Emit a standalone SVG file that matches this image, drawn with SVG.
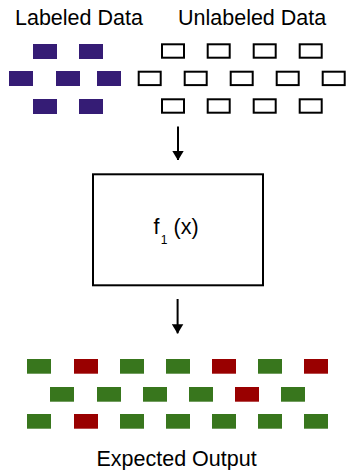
<svg xmlns="http://www.w3.org/2000/svg" width="346" height="470" viewBox="0 0 346 470">
  <style>
    .label { font-family: "Liberation Sans", Arial, sans-serif; font-size: 21.5px; fill: #000; }
    .lab { fill: #351c75; }
    .unl { fill: #fff; stroke: #000; stroke-width: 2; }
    .ok { fill: #38761d; }
    .bad { fill: #990000; }
    .edge { stroke: #000; stroke-width: 2; fill: none; }
  </style>
  <defs>
    <marker id="arrow" viewBox="0 0 10 12" refX="9.5" refY="6" markerWidth="9.5" markerHeight="12" markerUnits="userSpaceOnUse" orient="auto">
      <path d="M0,0 L10,6 L0,12 Z" fill="#000"/>
    </marker>
  </defs>
  <rect width="346" height="470" fill="#fff"/>

  <!-- labeled samples -->
  <g id="labeled-data">
    <text class="label" x="15" y="25">Labeled Data</text>
    <rect class="lab" x="33" y="44" width="24" height="15"/>
    <rect class="lab" x="79" y="44" width="24" height="15"/>
    <rect class="lab" x="9" y="71" width="24" height="15"/>
    <rect class="lab" x="56" y="71" width="24" height="15"/>
    <rect class="lab" x="97" y="71" width="24" height="15"/>
    <rect class="lab" x="33" y="99" width="24" height="15"/>
    <rect class="lab" x="79" y="99" width="24" height="15"/>
  </g>

  <!-- unlabeled samples -->
  <g id="unlabeled-data">
    <text class="label" x="178" y="25">Unlabeled Data</text>
    <rect class="unl" x="162" y="44.3" width="22" height="13.4"/>
    <rect class="unl" x="207.7" y="44.3" width="22" height="13.4"/>
    <rect class="unl" x="253.7" y="44.3" width="22" height="13.4"/>
    <rect class="unl" x="299.7" y="44.3" width="22" height="13.4"/>
    <rect class="unl" x="138.7" y="71.7" width="22" height="13.4"/>
    <rect class="unl" x="184.7" y="71.7" width="22" height="13.4"/>
    <rect class="unl" x="230.7" y="71.7" width="22" height="13.4"/>
    <rect class="unl" x="276.7" y="71.7" width="22" height="13.4"/>
    <rect class="unl" x="322.7" y="71.7" width="22" height="13.4"/>
    <rect class="unl" x="162" y="99.3" width="22" height="13.4"/>
    <rect class="unl" x="207.7" y="99.3" width="22" height="13.4"/>
    <rect class="unl" x="253.7" y="99.3" width="22" height="13.4"/>
    <rect class="unl" x="299.7" y="99.3" width="22" height="13.4"/>
  </g>

  <!-- model -->
  <g id="model">
    <rect x="93" y="174.3" width="170" height="111" fill="#fff" stroke="#000" stroke-width="2"/>
    <text class="label" x="153.5" y="234">f<tspan x="160.8" y="243.5" font-size="12">1</tspan><tspan x="173.5" y="234">(x)</tspan></text>
  </g>

  <!-- predictions -->
  <g id="expected-output">
    <rect class="ok" x="27" y="359" width="24" height="14.7"/>
    <rect class="bad" x="74" y="359" width="24" height="14.7"/>
    <rect class="ok" x="120" y="359" width="24" height="14.7"/>
    <rect class="ok" x="166" y="359" width="24" height="14.7"/>
    <rect class="bad" x="212" y="359" width="24" height="14.7"/>
    <rect class="ok" x="258" y="359" width="24" height="14.7"/>
    <rect class="bad" x="304" y="359" width="24" height="14.7"/>
    <rect class="ok" x="50" y="387" width="24" height="14.7"/>
    <rect class="ok" x="97" y="387" width="24" height="14.7"/>
    <rect class="ok" x="143" y="387" width="24" height="14.7"/>
    <rect class="ok" x="189" y="387" width="24" height="14.7"/>
    <rect class="bad" x="235" y="387" width="24" height="14.7"/>
    <rect class="ok" x="281" y="387" width="24" height="14.7"/>
    <rect class="ok" x="27" y="414" width="24" height="14.7"/>
    <rect class="bad" x="74" y="414" width="24" height="14.7"/>
    <rect class="ok" x="120" y="414" width="24" height="14.7"/>
    <rect class="ok" x="166" y="414" width="24" height="14.7"/>
    <rect class="ok" x="212" y="414" width="24" height="14.7"/>
    <rect class="ok" x="258" y="414" width="24" height="14.7"/>
    <rect class="ok" x="304" y="414" width="24" height="14.7"/>
    <text class="label" x="96.5" y="465.5">Expected Output</text>
  </g>

  <!-- flow arrows -->
  <g id="connectors">
    <line class="edge" x1="178" y1="126.5" x2="178" y2="160" marker-end="url(#arrow)"/>
    <line class="edge" x1="177.6" y1="299" x2="177.6" y2="333.3" marker-end="url(#arrow)"/>
  </g>
</svg>
